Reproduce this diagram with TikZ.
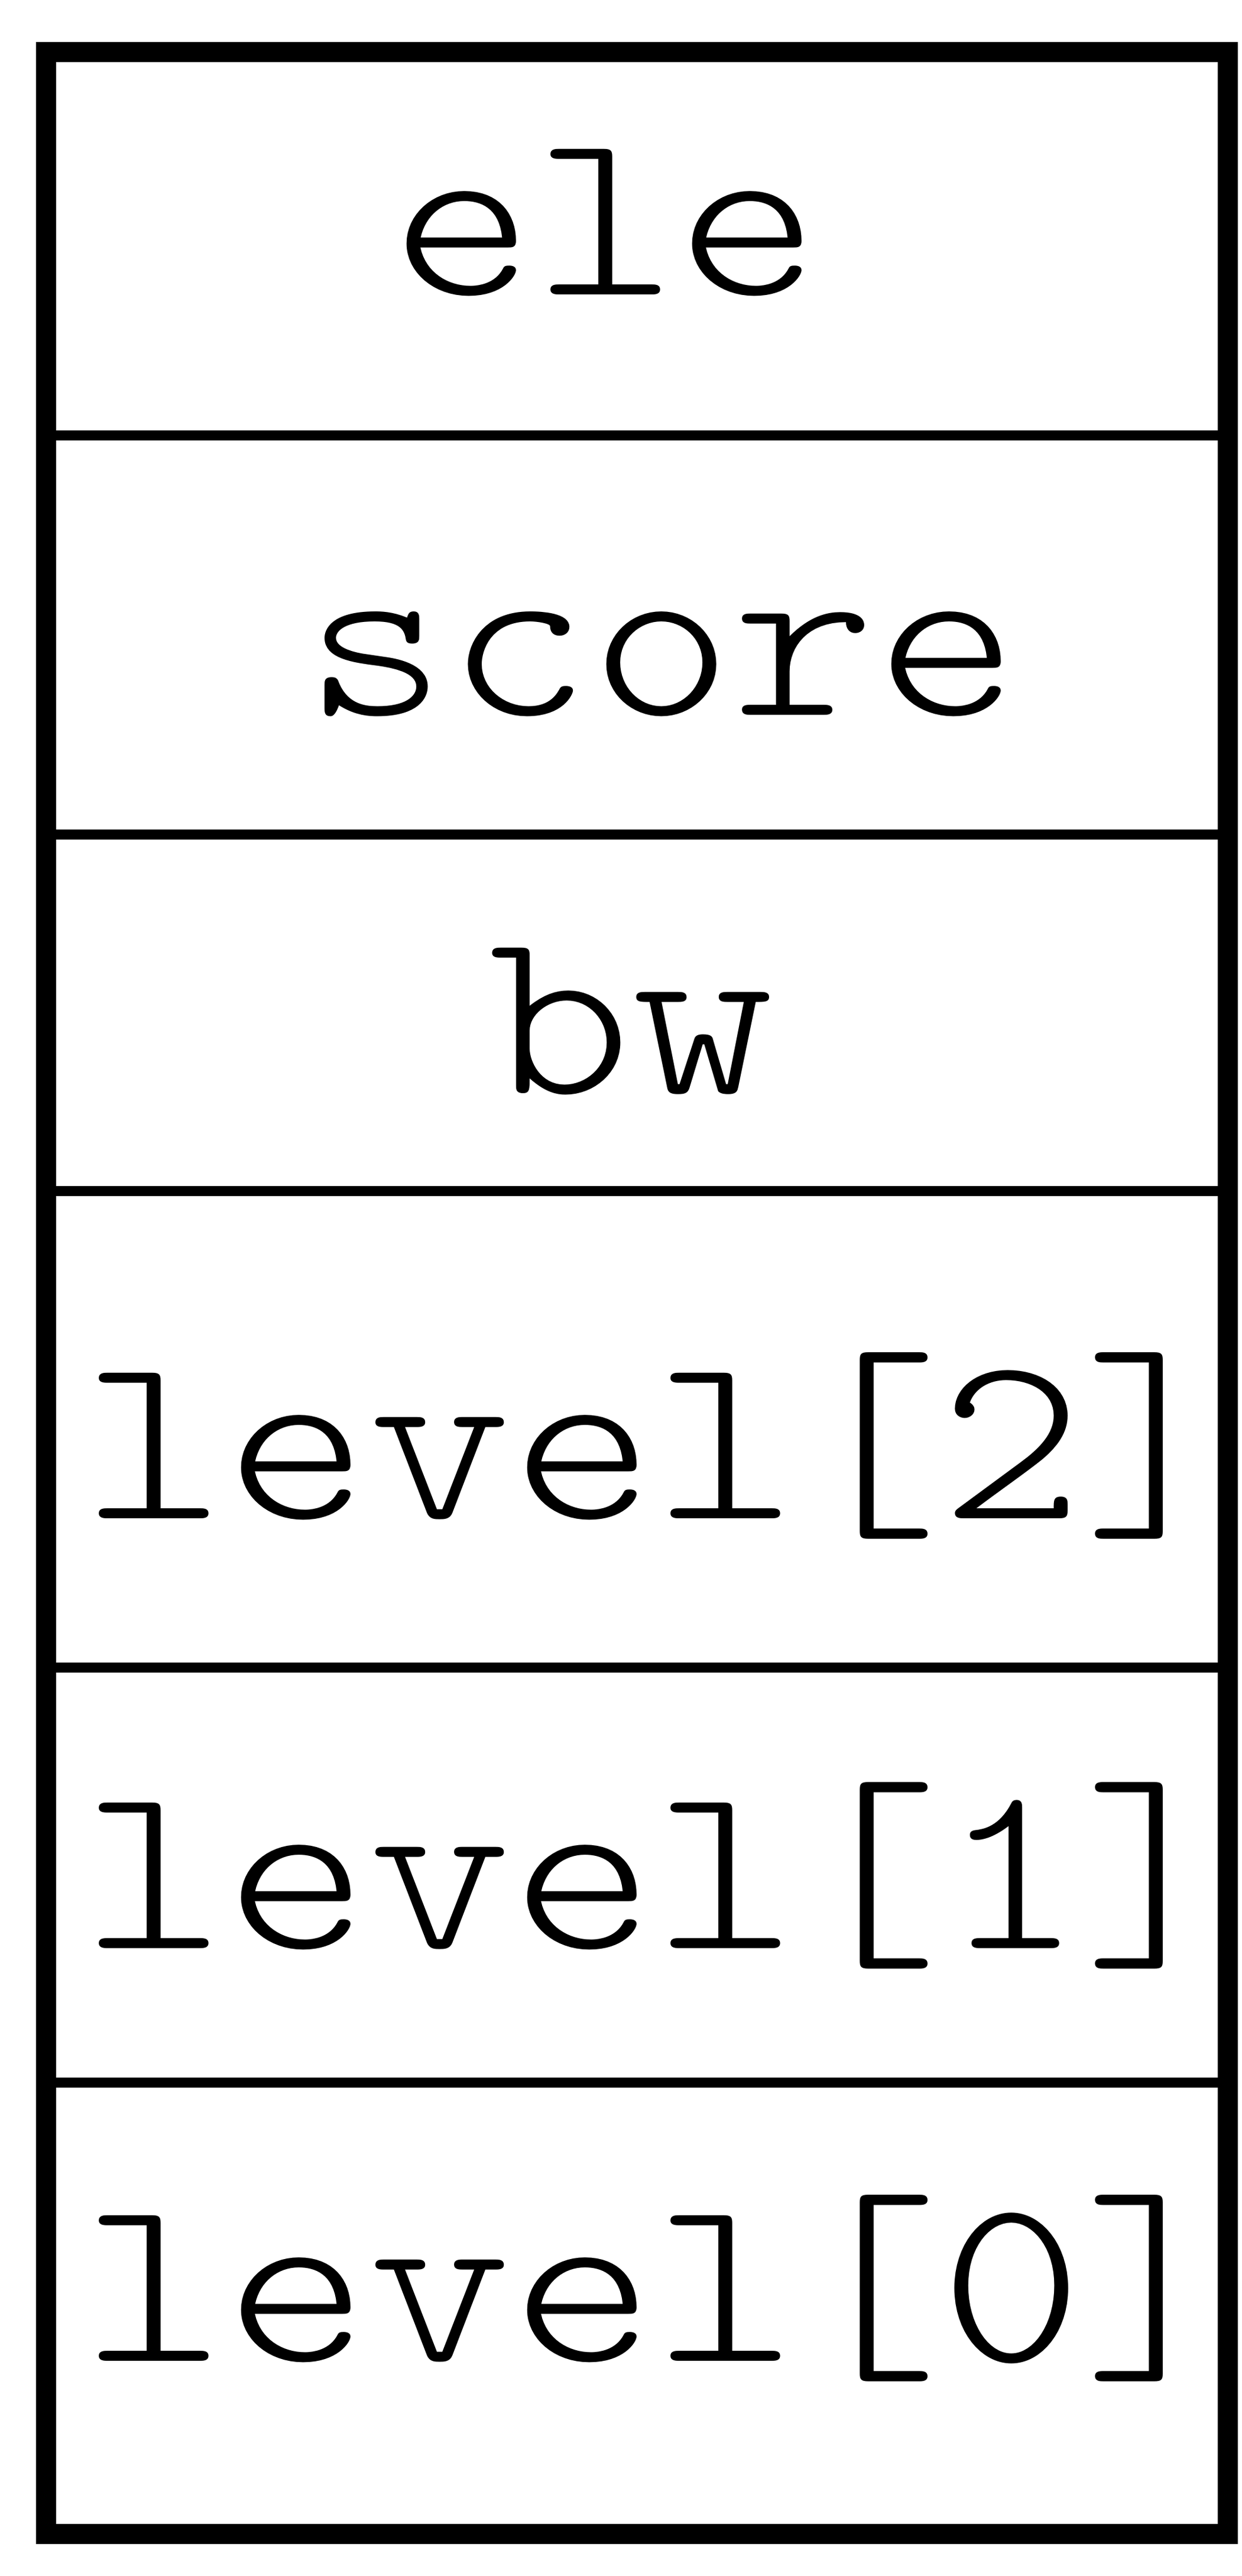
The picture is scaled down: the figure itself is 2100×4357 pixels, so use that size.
\documentclass[tikz,border=0pt]{standalone}
\usepackage{fontspec}
\newfontfamily\recfont[Extension=.otf, FakeStretch=1.142857]{lmmonolt10-regular}
\tikzset{
  rec/.style={line width=3.4pt, draw=black},
  sep/.style={line width=1.7pt, draw=black},
  field/.style={anchor=base, inner sep=0pt, font=\recfont\fontsize{40.3pt}{40.3pt}\selectfont}
}
\begin{document}
\begin{tikzpicture}[x=0.1pt,y=-0.1pt]
\useasboundingbox (0,0) rectangle (2100,4357);
\draw[rec] (78,88) rectangle (2077,4286);
\foreach \yy in {736,1411,2014,2820,3522}{
  \draw[sep] (78,\yy) -- (2077,\yy);
}
\node[field] (ele) at (1024,498) {ele};
\node[field] (score) at (1119,1209) {score};
\node[field] (bw) at (1068,1849) {bw};
\node[field] (l2) at (1107,2568) {level[2]};
\node[field] (l1) at (1107,3295) {level[1]};
\node[field] (l0) at (1107,3993) {level[0]};
\end{tikzpicture}
\end{document}
